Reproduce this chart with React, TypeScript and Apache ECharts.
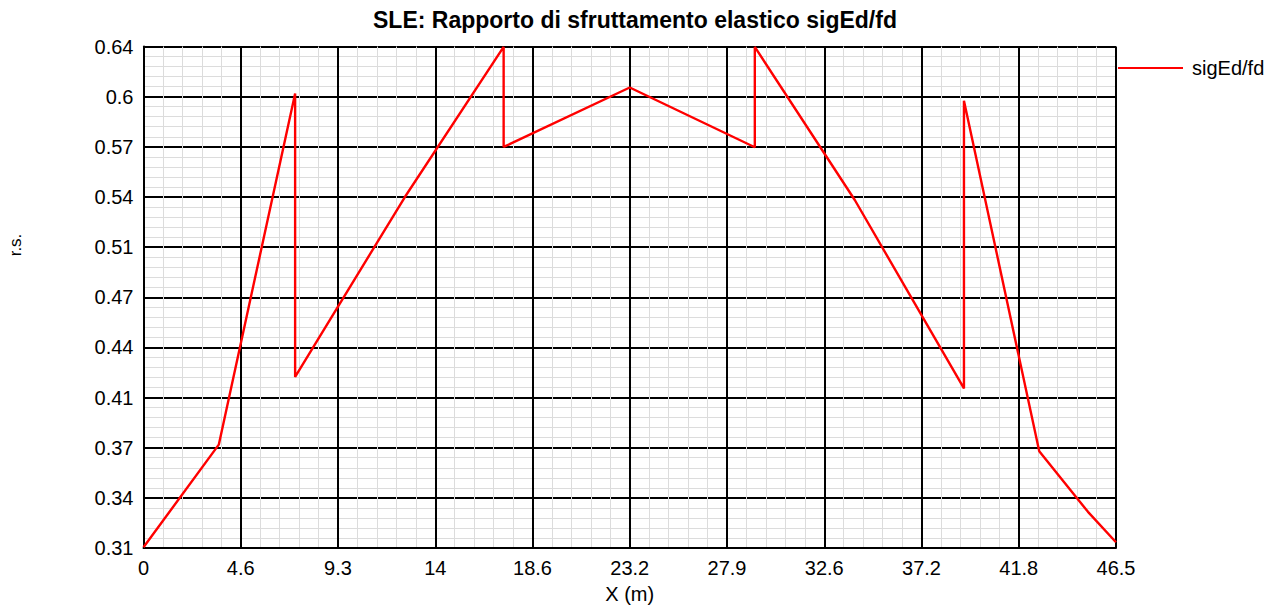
import React, { useEffect, useRef } from "react";
import * as echarts from "echarts";

const xValues = [0, 3.6, 7.25, 7.25, 12.49, 17.22, 17.22, 23.25, 29.23, 29.23, 34.01, 39.23, 39.23, 42.83, 45.16, 46.5];
const yValues = [0.308, 0.3755, 0.6066, 0.4201, 0.5383, 0.6372, 0.5714, 0.6105, 0.5712, 0.6372, 0.5365, 0.4125, 0.6018, 0.3711, 0.3313, 0.3113];

const xTickLabels = ["0", "4.6", "9.3", "14", "18.6", "23.2", "27.9", "32.6", "37.2", "41.8", "46.5"];
const yTickLabels = ["0.31", "0.34", "0.37", "0.41", "0.44", "0.47", "0.51", "0.54", "0.57", "0.6", "0.64"];

const X_MAX = 46.5;
const X_STEP = 4.65;
const Y_MIN = 0.3075;
const Y_STEP = 0.033;
const Y_SPAN = 0.33;

const seriesName = "sigEd/fd";
const titleText = "SLE: Rapporto di sfruttamento elastico sigEd/fd";
const yAxisName = "r.s.";
const xAxisName = "X (m)";

const FONT = "'Liberation Sans', Arial, sans-serif";

export default function App() {
  const ref = useRef<HTMLDivElement>(null);
  useEffect(() => {
    if (!ref.current) return;
    const chart = echarts.init(ref.current, undefined, { renderer: "svg" });
    const data = xValues.map((x, i) => [x, yValues[i] - Y_MIN]);
    chart.setOption({
      animation: false,
      backgroundColor: "#ffffff",
      textStyle: { fontFamily: FONT },
      title: {
        text: titleText,
        left: 630,
        top: 3,
        textAlign: "center",
        textStyle: { fontFamily: FONT, fontSize: 23, fontWeight: "bold", color: "#000" },
      },
      legend: {
        left: 1118,
        top: 58,
        padding: 0,
        orient: "vertical",
        itemWidth: 65,
        itemHeight: 2,
        icon: "rect",
        data: [{ name: seriesName, icon: "rect", itemStyle: { color: "#ff0000" } }],
        textStyle: { fontFamily: FONT, fontSize: 20, color: "#000", padding: [0, 0, 0, 4] },
      },
      graphic: [
        {
          type: "text",
          x: 15,
          y: 245,
          rotation: Math.PI / 2,
          style: {
            text: yAxisName,
            fontFamily: FONT,
            fontSize: 17,
            fill: "#000",
            textAlign: "center",
            textVerticalAlign: "middle",
          },
        },
      ],
      grid: { left: 143.5, right: 155, top: 46.5, bottom: 56.5, containLabel: false },
      xAxis: {
        type: "value",
        min: 0,
        max: X_MAX,
        interval: X_STEP,
        name: xAxisName,
        nameLocation: "middle",
        nameGap: 36,
        nameTextStyle: { fontFamily: FONT, fontSize: 20, color: "#000" },
        axisLine: { show: true, onZero: false, lineStyle: { color: "#000", width: 2 } },
        axisTick: { show: false },
        axisLabel: {
          fontFamily: FONT,
          fontSize: 20,
          color: "#000",
          margin: 10,
          formatter: (v: number) => xTickLabels[Math.round(v / X_STEP)] ?? "",
        },
        splitLine: { show: true, lineStyle: { color: "#000", width: 2 } },
        minorTick: { show: false, splitNumber: 5 },
        minorSplitLine: { show: true, lineStyle: { color: "#dcdcdc", width: 1 } },
      },
      yAxis: {
        type: "value",
        min: 0,
        max: Y_SPAN,
        interval: Y_STEP,
        axisLine: { show: true, lineStyle: { color: "#000", width: 2 } },
        axisTick: { show: false },
        axisLabel: {
          fontFamily: FONT,
          fontSize: 20,
          color: "#000",
          margin: 10,
          formatter: (v: number) => yTickLabels[Math.round(v / Y_STEP)] ?? "",
        },
        splitLine: { show: true, lineStyle: { color: "#000", width: 2 } },
        minorTick: { show: false, splitNumber: 5 },
        minorSplitLine: { show: true, lineStyle: { color: "#dcdcdc", width: 1 } },
      },
      series: [
        {
          name: seriesName,
          type: "line",
          data,
          showSymbol: false,
          symbol: "none",
          lineStyle: { color: "#ff0000", width: 2.4 },
          itemStyle: { color: "#ff0000" },
          z: 5,
        },
      ],
    });
    return () => chart.dispose();
  }, []);
  return <div ref={ref} style={{ position: "fixed", left: 0, top: 0, width: 1271, height: 609 }} />;
}
